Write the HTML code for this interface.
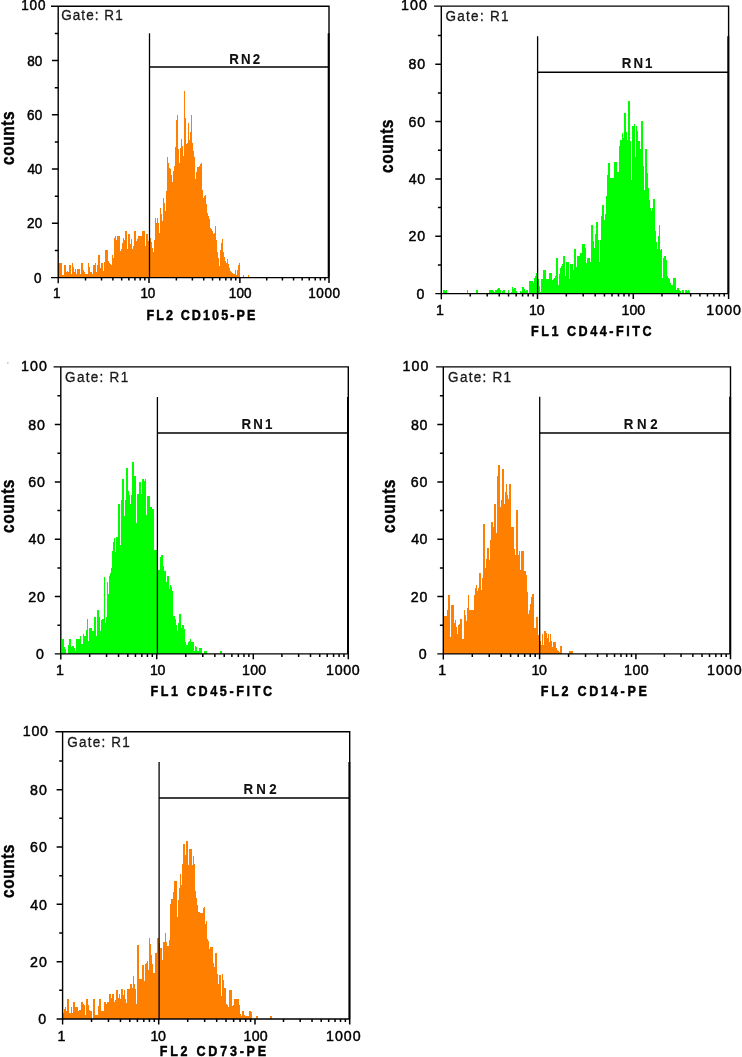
<!DOCTYPE html><html><head><meta charset="utf-8"><title>Flow cytometry histograms</title>
<style>html,body{margin:0;padding:0;background:#fff}svg{display:block}text{font-family:"Liberation Sans",sans-serif;fill:#000;font-kerning:none;stroke:#000;stroke-width:0.45px}.b{font-size:14.1px;font-weight:bold}.c{font-size:18.5px;font-weight:bold}.g{font-size:13.5px;fill:#1a1a1a;stroke:#1a1a1a;stroke-width:0.3px}.r{font-size:13.3px;font-weight:bold;fill:#111;stroke-width:0.1px}</style></head><body>
<svg width="742" height="1057" viewBox="0 0 742 1057">
<rect width="742" height="1057" fill="#fff"/>
<defs><filter id="soft" x="-2%" y="-2%" width="104%" height="104%"><feGaussianBlur stdDeviation="0.42"/></filter></defs>
<g id="panel1">
<path d="M58 277.6V262.74h1V262.74h1V262.74h1V262.74h1V274.87h1V274.87h1V265.43h1V265.43h1V272.17h1V271.43h1V271.5h1V265.43h1V265.43h1V274.19h1V263.14h1V267.23h1V271.89h1V268.8h1V274.19h1V269.47h1V269.47h1V269.47h1V274.19h1V263.14h1V263.14h1V269.79h1V272.01h1V274.19h1V274.19h1V274.19h1V263.14h1V267.01h1V272.17h1V272.17h1V274.19h1V264.76h1V264.76h1V262.74h1V272.17h1V265.49h1V254.92h1V254.92h1V268.13h1V263.14h1V263.14h1V270.82h1V262.48h1V249.66h1V249.66h1V249.66h1V261.01h1V262.56h1V264.35h1V265.43h1V254.92h1V258.02h1V238.17h1V236.46h1V240.05h1V236.46h1V236.46h1V236.46h1V251.28h1V248.58h1V242.71h1V238.48h1V239.82h1V231.06h1V231.06h1V249.26h1V233.76h1V233.76h1V243.87h1V239.15h1V248.58h1V245.61h1V231.06h1V231.06h1V241.17h1V238.57h1V236.46h1V236.46h1V236.46h1V236.46h1V231.06h1V231.06h1V231.06h1V245.89h1V233.76h1V233.76h1V241.17h1V239.5h1V238.22h1V242.01h1V248.2h1V252.07h1V239.9h1V217.91h1V222.53h1V217.55h1V223.41h1V232.68h1V207.76h1V214.16h1V220.68h1V197.98h1V203.02h1V210.53h1V191.39h1V157h1V163.14h1V168.28h1V168.78h1V174.78h1V181.92h1V170.66h1V166.47h1V146.5h1V119.74h1V115.46h1V148.56h1V163.46h1V148.23h1V138.54h1V145.51h1V156.07h1V91.46h1V117.52h1V144.07h1V143.17h1V122.84h1V140.38h1V131.92h1V115.46h1V142.54h1V151.34h1V157.24h1V179.15h1V171.74h1V167.01h1V166.62h1V166.24h1V164.42h1V163.46h1V190.3h1V197.61h1V195.91h1V194.84h1V203.51h1V212.79h1V215.61h1V218.57h1V227.86h1V228.68h1V230.78h1V233.61h1V232.85h1V225.67h1V240.46h1V251.88h1V258.34h1V265.91h1V249.96h1V242.81h1V239.14h1V252.34h1V257.34h1V260.9h1V263.14h1V258.53h1V263.73h1V268.45h1V271.48h1V272.25h1V273.02h1V273.75h1V274.22h1V269.6h1V275.14h1V269.72h1V265.13h1V262.59h1V277.6h1V277.6h1V277.6h1V274.96h1V277.6h1V277.6h1V277.6h1V277.6h1V274.96h1V277.6h1V277.6Z" fill="#ff8000" shape-rendering="crispEdges" filter="url(#soft)"/>
<g stroke="#000" stroke-width="1.4" fill="none">
<path d="M51 6.2H329V277.6"/>
<path d="M58.2 6.2V283.2M51 277.6H329"/>
<path stroke-width="1.5" d="M54.8 250.48H58.2M51.9 223.35H58.2M54.8 196.23H58.2M51.9 169.1H58.2M54.8 141.98H58.2M51.9 114.85H58.2M54.8 87.73H58.2M51.9 60.6H58.2M54.8 33.48H58.2M85.53 277.6V280.6M101.52 277.6V280.6M112.87 277.6V280.6M121.67 277.6V280.6M128.86 277.6V280.6M134.93 277.6V280.6M140.2 277.6V280.6M144.85 277.6V280.6M149 277.6V283M176.36 277.6V280.6M192.37 277.6V280.6M203.73 277.6V280.6M212.54 277.6V280.6M219.73 277.6V280.6M225.82 277.6V280.6M231.09 277.6V280.6M235.74 277.6V280.6M239.9 277.6V283M266.72 277.6V280.6M282.41 277.6V280.6M293.54 277.6V280.6M302.18 277.6V280.6M309.23 277.6V280.6M315.2 277.6V280.6M320.37 277.6V280.6M324.92 277.6V280.6M329 277.6V283"/>
</g>
<g stroke="#000" fill="none"><path stroke-width="1.3" d="M149.5 33.3V277.6"/><path stroke-width="1.5" d="M149.5 66.9H329"/>
<path stroke-width="1.9" d="M328.65 33.3V277.6"/></g>
<text class="t" transform="translate(33.92 282.54) scale(1 1.07)" style="font-size:13.5px" letter-spacing="0">0</text>
<text class="t" transform="translate(27.12 228.29) scale(1 1.07)" style="font-size:13.5px" letter-spacing="0.19">20</text>
<text class="t" transform="translate(27.49 174.04) scale(1 1.07)" style="font-size:13.5px" letter-spacing="-0.18">40</text>
<text class="t" transform="translate(27.11 119.79) scale(1 1.07)" style="font-size:13.5px" letter-spacing="0.2">60</text>
<text class="t" transform="translate(27.21 65.54) scale(1 1.07)" style="font-size:13.5px" letter-spacing="0.1">80</text>
<text class="t" transform="translate(21.17 10.14) scale(1 1.07)" style="font-size:13.5px" letter-spacing="0.87">100</text>
<text class="t" transform="translate(53.11 298) scale(1 1.07)" style="font-size:13.5px" letter-spacing="0">1</text>
<text class="t" transform="translate(140.56 298) scale(1 1.07)" style="font-size:13.5px" letter-spacing="-0.25">10</text>
<text class="t" transform="translate(228.67 298) scale(1 1.07)" style="font-size:13.5px" letter-spacing="0.22">100</text>
<text class="t" transform="translate(308.17 298) scale(1 1.07)" style="font-size:13.5px" letter-spacing="0.61">1000</text>
<text class="b" transform="translate(146.46 320) scale(0.89 1)" letter-spacing="2.38">FL2 CD105-PE</text>
<text class="c" transform="translate(14.1 164.3) rotate(-90) scale(0.84 1)" x="-0.72" y="0" letter-spacing="0.6">counts</text>
<text class="g" transform="translate(61.22 20.3) scale(1 1.1)" letter-spacing="1.06">Gate: R1</text>
<text class="r" transform="translate(229.21 63.7) scale(1 1.08)" letter-spacing="2.16">RN2</text>
</g>
<g id="panel2">
<path d="M442 293.6V293.6h1V290.13h1V290.13h1V291.4h1V290.13h1V293.6h1V293.6h1V293.6h1V293.6h1V293.6h1V293.6h1V293.6h1V293.6h1V293.6h1V293.6h1V293.6h1V293.6h1V293.6h1V293.6h1V293.6h1V293.6h1V293.6h1V293.6h1V293.6h1V293.6h1V290.13h1V293.6h1V293.6h1V293.6h1V293.6h1V293.6h1V293.6h1V293.6h1V293.6h1V290.13h1V290.13h1V293.6h1V293.6h1V293.6h1V293.6h1V293.6h1V293.6h1V293.6h1V293.6h1V293.6h1V293.6h1V293.6h1V290.13h1V290.13h1V290.13h1V290.13h1V291.33h1V291.89h1V290.13h1V290.13h1V288.99h1V287.84h1V287.84h1V289.95h1V293.6h1V291.45h1V290.13h1V290.13h1V293.6h1V293.6h1V293.6h1V290.13h1V293.6h1V293.6h1V291.56h1V287.44h1V289.38h1V288.25h1V288.25h1V290.9h1V293.6h1V293.6h1V293.6h1V290.54h1V291.89h1V287.44h1V287.44h1V289.07h1V291.14h1V290.13h1V290.13h1V293.6h1V281.11h1V281.11h1V281.11h1V281.11h1V282.65h1V278.41h1V275.5h1V272.88h1V275.47h1V279.22h1V286.01h1V291.8h1V278.56h1V278.56h1V270.04h1V270.04h1V270.04h1V278.56h1V278.56h1V278.56h1V272.88h1V272.88h1V272.88h1V280.45h1V278.92h1V277.5h1V275.79h1V258.32h1V258.32h1V285.18h1V274.01h1V267.72h1V266.39h1V263.53h1V255.86h1V255.86h1V275.72h1V262.48h1V262.48h1V262.48h1V278.56h1V263.99h1V263.99h1V263.99h1V270.04h1V249.23h1V249.23h1V267.21h1V255.86h1V255.86h1V255.86h1V253.02h1V253.02h1V243.94h1V243.94h1V243.94h1V247.51h1V263.42h1V258.32h1V258.32h1V258.32h1V262.48h1V224.64h1V224.64h1V240.58h1V248.29h1V234.28h1V221.8h1V221.8h1V239.58h1V262.48h1V240.47h1V215.92h1V204.78h1V204.78h1V219.91h1V213.57h1V196.49h1V175.11h1V163.16h1V163.16h1V177.73h1V177.73h1V177.73h1V177.73h1V162.21h1V162.21h1V162.21h1V171.67h1V171.67h1V146.41h1V140.46h1V140.46h1V132.89h1V137.62h1V113.03h1V113.03h1V132.08h1V139.51h1V101.3h1V101.3h1V141.28h1V180.18h1V126.27h1V126.27h1V124h1V157.48h1V126.27h1V131.32h1V141.02h1V141.02h1V148.97h1V120.97h1V120.97h1V166.26h1V189.64h1V148.97h1V148.97h1V173.27h1V188.27h1V200.02h1V207.7h1V211.4h1V208.14h1V199.1h1V199.1h1V230.72h1V241.89h1V249.35h1V236.17h1V224.64h1V250.18h1V249.15h1V277.89h1V257.99h1V255.78h1V255.78h1V259.65h1V275.86h1V278.19h1V278.99h1V283.41h1V285.07h1V285.07h1V278.44h1V278.44h1V278.44h1V290.34h1V287.83h1V287.83h1V290.2h1V291.2h1V293.6h1V290.26h1V290.26h1V293.6h1V290.26h1V290.26h1V291.16h1V290.26h1V291.25h1V293.6Z" fill="#00ff00" shape-rendering="crispEdges" filter="url(#soft)"/>
<g stroke="#000" stroke-width="1.4" fill="none">
<path d="M434.1 6.15H728.6V293.6"/>
<path d="M441.3 6.15V299.2M435.3 293.6H728.6"/>
<path stroke-width="1.5" d="M437.9 264.93H441.3M435.3 236.26H441.3M437.9 207.59H441.3M435.3 178.92H441.3M437.9 150.25H441.3M435.3 121.58H441.3M437.9 92.91H441.3M435.3 64.24H441.3M437.9 35.57H441.3M470.26 293.6V296.6M487.2 293.6V296.6M499.22 293.6V296.6M508.54 293.6V296.6M516.16 293.6V296.6M522.6 293.6V296.6M528.18 293.6V296.6M533.1 293.6V296.6M537.5 293.6V299M566.34 293.6V296.6M583.21 293.6V296.6M595.18 293.6V296.6M604.46 293.6V296.6M612.05 293.6V296.6M618.46 293.6V296.6M624.02 293.6V296.6M628.92 293.6V296.6M633.3 293.6V299M661.99 293.6V296.6M678.77 293.6V296.6M690.68 293.6V296.6M699.91 293.6V296.6M707.46 293.6V296.6M713.84 293.6V296.6M719.36 293.6V296.6M724.24 293.6V296.6M728.6 293.6V299"/>
</g>
<g stroke="#000" fill="none"><path stroke-width="1.3" d="M537.6 36.2V293.6"/><path stroke-width="1.5" d="M537.6 72.3H728.6"/>
<path stroke-width="1.9" d="M728.25 36.2V293.6"/></g>
<text class="t" transform="translate(416.46 298.8) scale(1 1.07)" style="font-size:14.2px" letter-spacing="0">0</text>
<text class="t" transform="translate(408.39 241.46) scale(1 1.07)" style="font-size:14.2px" letter-spacing="1.07">20</text>
<text class="t" transform="translate(408.77 184.12) scale(1 1.07)" style="font-size:14.2px" letter-spacing="0.69">40</text>
<text class="t" transform="translate(408.38 126.78) scale(1 1.07)" style="font-size:14.2px" letter-spacing="1.08">60</text>
<text class="t" transform="translate(408.48 69.44) scale(1 1.07)" style="font-size:14.2px" letter-spacing="0.98">80</text>
<text class="t" transform="translate(401.02 10.35) scale(1 1.07)" style="font-size:14.2px" letter-spacing="1.07">100</text>
<text class="t" transform="translate(436.11 314.5) scale(1 1.07)" style="font-size:14.2px" letter-spacing="0">1</text>
<text class="t" transform="translate(529.11 314.5) scale(1 1.07)" style="font-size:14.2px" letter-spacing="-0.25">10</text>
<text class="t" transform="translate(621.62 314.5) scale(1 1.07)" style="font-size:14.2px" letter-spacing="-0.03">100</text>
<text class="t" transform="translate(706.32 314.5) scale(1 1.07)" style="font-size:14.2px" letter-spacing="1.02">1000</text>
<text class="b" transform="translate(530.96 335.5) scale(0.89 1)" letter-spacing="2.88">FL1 CD44-FITC</text>
<text class="c" transform="translate(393 172.4) rotate(-90) scale(0.84 1)" x="-0.72" y="0" letter-spacing="0.6">counts</text>
<text class="g" transform="translate(445.42 21.4) scale(1 1.1)" letter-spacing="1.3">Gate: R1</text>
<text class="r" transform="translate(621.81 67.8) scale(1 1.08)" letter-spacing="2.03">RN1</text>
</g>
<g id="panel3">
<path d="M62 653.9V639.25h1V639.25h1V646.62h1V649.19h1V653.9h1V653.9h1V644.93h1V639.25h1V639.25h1V647.3h1V646.37h1V645.88h1V648.48h1V650.61h1V639.25h1V639.25h1V639.25h1V639.25h1V636.42h1V644.12h1V644.46h1V634.05h1V636.42h1V636.1h1V630.4h1V619.39h1V641.23h1V628.37h1V628.37h1V628.37h1V631.21h1V631.21h1V616.55h1V616.55h1V635.94h1V609.93h1V609.93h1V616.55h1V630.74h1V619.67h1V619.2h1V619.2h1V576.81h1V623.17h1V616.61h1V582.49h1V593.84h1V575.71h1V573.03h1V567.62h1V550.59h1V542.22h1V538.29h1V552.48h1V537.35h1V537.35h1V504.24h1V504.24h1V544.91h1V499.51h1V478.7h1V478.7h1V516.02h1V499.51h1V468.3h1V468.3h1V491h1V495.13h1V504.24h1V494.78h1V461.68h1V461.68h1V475.86h1V475.86h1V523.16h1V493.84h1V493.84h1V481.54h1V481.54h1V493.76h1V479.08h1V479.08h1V481.43h1V479.08h1V514.65h1V496.11h1V496.11h1V496.11h1V507.08h1V507.08h1V508.66h1V508.97h1V549.64h1V549.64h1V549.64h1V559.48h1V569.51h1V569.51h1V556.72h1V555.32h1V555.32h1V565.65h1V571.4h1V571.4h1V581.8h1V576.13h1V576.13h1V589.39h1V584.86h1V586.62h1V590.53h1V616.08h1V616.08h1V619.34h1V624.69h1V631.21h1V623.17h1V614.18h1V614.18h1V628.37h1V624.59h1V624.59h1V628.7h1V641.62h1V645.4h1V645.4h1V641.62h1V640.76h1V639.25h1V641.6h1V641.62h1V641.62h1V650.61h1V645.88h1V646.64h1V650.61h1V650.61h1V648.24h1V648.24h1V648.24h1V653.9h1V653.9h1V651.08h1V651.08h1V651.08h1V653.9h1V653.9h1V653.9h1V653.9h1V653.9h1V653.9h1V653.9h1V653.9h1V653.9h1V653.9h1V653.9h1V653.9h1V653.9h1V651.08h1V651.08h1V653.9h1V653.9Z" fill="#00ff00" shape-rendering="crispEdges" filter="url(#soft)"/>
<g stroke="#000" stroke-width="1.4" fill="none">
<path d="M53.6 366.9H348.3V653.9"/>
<path d="M60.8 366.9V659.5M54.8 653.9H348.3"/>
<path stroke-width="1.5" d="M57.4 625.23H60.8M54.8 596.56H60.8M57.4 567.89H60.8M54.8 539.22H60.8M57.4 510.55H60.8M54.8 481.88H60.8M57.4 453.21H60.8M54.8 424.54H60.8M57.4 395.87H60.8M89.67 653.9V656.9M106.56 653.9V656.9M118.54 653.9V656.9M127.83 653.9V656.9M135.42 653.9V656.9M141.84 653.9V656.9M147.41 653.9V656.9M152.31 653.9V656.9M156.7 653.9V659.3M185.78 653.9V656.9M202.79 653.9V656.9M214.86 653.9V656.9M224.22 653.9V656.9M231.87 653.9V656.9M238.34 653.9V656.9M243.94 653.9V656.9M248.88 653.9V656.9M253.3 653.9V659.3M281.9 653.9V656.9M298.63 653.9V656.9M310.5 653.9V656.9M319.7 653.9V656.9M327.22 653.9V656.9M333.58 653.9V656.9M339.09 653.9V656.9M343.95 653.9V656.9M348.3 653.9V659.3"/>
</g>
<g stroke="#000" fill="none"><path stroke-width="1.3" d="M157.4 396.9V653.9"/><path stroke-width="1.5" d="M157.4 433H348.3"/>
<path stroke-width="1.9" d="M347.95 396.9V653.9"/></g>
<text class="t" transform="translate(36.06 659.1) scale(1 1.07)" style="font-size:14.2px" letter-spacing="0">0</text>
<text class="t" transform="translate(28.19 601.76) scale(1 1.07)" style="font-size:14.2px" letter-spacing="0.87">20</text>
<text class="t" transform="translate(28.57 544.42) scale(1 1.07)" style="font-size:14.2px" letter-spacing="0.49">40</text>
<text class="t" transform="translate(28.18 487.08) scale(1 1.07)" style="font-size:14.2px" letter-spacing="0.88">60</text>
<text class="t" transform="translate(28.28 429.74) scale(1 1.07)" style="font-size:14.2px" letter-spacing="0.78">80</text>
<text class="t" transform="translate(21.02 371.1) scale(1 1.07)" style="font-size:14.2px" letter-spacing="1.07">100</text>
<text class="t" transform="translate(56.01 675.2) scale(1 1.07)" style="font-size:14.2px" letter-spacing="0">1</text>
<text class="t" transform="translate(149.91 675.2) scale(1 1.07)" style="font-size:14.2px" letter-spacing="-0.25">10</text>
<text class="t" transform="translate(242.02 675.2) scale(1 1.07)" style="font-size:14.2px" letter-spacing="0.27">100</text>
<text class="t" transform="translate(326.12 675.2) scale(1 1.07)" style="font-size:14.2px" letter-spacing="0.65">1000</text>
<text class="b" transform="translate(150.46 696.4) scale(0.89 1)" letter-spacing="2.98">FL1 CD45-FITC</text>
<text class="c" transform="translate(13.9 532.4) rotate(-90) scale(0.84 1)" x="-0.72" y="0" letter-spacing="0.6">counts</text>
<text class="g" transform="translate(65.12 381.9) scale(1 1.1)" letter-spacing="1.29">Gate: R1</text>
<text class="r" transform="translate(241.61 428.6) scale(1 1.08)" letter-spacing="2.13">RN1</text>
</g>
<g id="panel4">
<path d="M443 653.9V616.42h1V616.42h1V616.42h1V616.42h1V610.04h1V595.05h1V595.05h1V636.67h1V604.51h1V604.51h1V604.51h1V623.42h1V619.64h1V626.65h1V633.83h1V625.31h1V623.72h1V619.07h1V619.07h1V639.13h1V639.13h1V609.61h1V615.17h1V620.85h1V607.91h1V595.42h1V609.61h1V609.61h1V609.61h1V609.61h1V609.61h1V594.92h1V588.43h1V585.02h1V590.7h1V587.93h1V572.91h1V572.91h1V590.32h1V578.47h1V524.1h1V524.1h1V567.62h1V558.65h1V547.75h1V547.75h1V559.67h1V540.41h1V522.21h1V522.21h1V526.94h1V504.24h1V504.24h1V533.19h1V475.86h1V465.46h1V465.46h1V507.46h1V499.71h1V469.24h1V469.24h1V504.24h1V492.04h1V484.38h1V495.15h1V499.49h1V484.38h1V484.38h1V526.94h1V526.94h1V526.94h1V548.91h1V555.32h1V509.54h1V509.54h1V555.32h1V550.59h1V570.45h1V550.59h1V550.59h1V550.59h1V571.4h1V571.4h1V574.89h1V592.34h1V613.96h1V610.24h1V603.98h1V597.4h1V594.1h1V594.1h1V628.15h1V628.15h1V616.8h1V616.8h1V634.78h1V638.11h1V641.45h1V645.18h1V633.83h1V645.18h1V630.99h1V630.99h1V633.15h1V637.61h1V633.83h1V642.34h1V633.83h1V641.24h1V647.07h1V642.34h1V642.34h1V642.34h1V647.66h1V649.53h1V651.05h1V651.8h1V646.12h1V646.12h1V653.9h1V653.9h1V653.9h1V653.9h1V653.9h1V653.9h1V653.9h1V650.85h1V650.85h1V650.85h1V650.85h1V653.9h1V653.9Z" fill="#ff8000" shape-rendering="crispEdges" filter="url(#soft)"/>
<g stroke="#000" stroke-width="1.4" fill="none">
<path d="M436.1 366.9H730.5V653.9"/>
<path d="M443.3 366.9V659.5M437.3 653.9H730.5"/>
<path stroke-width="1.5" d="M439.9 625.23H443.3M437.3 596.56H443.3M439.9 567.89H443.3M437.3 539.22H443.3M439.9 510.55H443.3M437.3 481.88H443.3M439.9 453.21H443.3M437.3 424.54H443.3M439.9 395.87H443.3M472.29 653.9V656.9M489.25 653.9V656.9M501.28 653.9V656.9M510.61 653.9V656.9M518.24 653.9V656.9M524.68 653.9V656.9M530.27 653.9V656.9M535.19 653.9V656.9M539.6 653.9V659.3M568.59 653.9V656.9M585.55 653.9V656.9M597.58 653.9V656.9M606.91 653.9V656.9M614.54 653.9V656.9M620.98 653.9V656.9M626.57 653.9V656.9M631.49 653.9V656.9M635.9 653.9V659.3M664.38 653.9V656.9M681.04 653.9V656.9M692.85 653.9V656.9M702.02 653.9V656.9M709.51 653.9V656.9M715.85 653.9V656.9M721.33 653.9V656.9M726.17 653.9V656.9M730.5 653.9V659.3"/>
</g>
<g stroke="#000" fill="none"><path stroke-width="1.3" d="M539.7 396.8V653.9"/><path stroke-width="1.5" d="M539.7 433.1H730.5"/>
<path stroke-width="1.9" d="M730.15 396.8V653.9"/></g>
<text class="t" transform="translate(418.66 659.1) scale(1 1.07)" style="font-size:14.2px" letter-spacing="0">0</text>
<text class="t" transform="translate(410.79 601.76) scale(1 1.07)" style="font-size:14.2px" letter-spacing="0.87">20</text>
<text class="t" transform="translate(411.17 544.42) scale(1 1.07)" style="font-size:14.2px" letter-spacing="0.49">40</text>
<text class="t" transform="translate(410.78 487.08) scale(1 1.07)" style="font-size:14.2px" letter-spacing="0.88">60</text>
<text class="t" transform="translate(410.88 429.74) scale(1 1.07)" style="font-size:14.2px" letter-spacing="0.78">80</text>
<text class="t" transform="translate(402.62 371.1) scale(1 1.07)" style="font-size:14.2px" letter-spacing="1.07">100</text>
<text class="t" transform="translate(438.31 675.2) scale(1 1.07)" style="font-size:14.2px" letter-spacing="0">1</text>
<text class="t" transform="translate(531.41 675.2) scale(1 1.07)" style="font-size:14.2px" letter-spacing="-0.25">10</text>
<text class="t" transform="translate(623.92 675.2) scale(1 1.07)" style="font-size:14.2px" letter-spacing="0.57">100</text>
<text class="t" transform="translate(707.12 675.2) scale(1 1.07)" style="font-size:14.2px" letter-spacing="0.95">1000</text>
<text class="b" transform="translate(540.76 695.8) scale(0.89 1)" letter-spacing="3.09">FL2 CD14-PE</text>
<text class="c" transform="translate(394.5 532.4) rotate(-90) scale(0.84 1)" x="-0.72" y="0" letter-spacing="0.6">counts</text>
<text class="g" transform="translate(448.12 381.6) scale(1 1.1)" letter-spacing="1.27">Gate: R1</text>
<text class="r" transform="translate(623.81 428.6) scale(1 1.08)" letter-spacing="3.61">RN2</text>
</g>
<g id="panel5">
<path d="M63 1019V1013.45h1V1008.72h1V1006.71h1V1010.75h1V999.3h1V999.3h1V1013.45h1V1013.45h1V1007.39h1V1013.09h1V1001.73h1V1001.73h1V1007.42h1V1007.39h1V1007.39h1V1010.75h1V1010.08h1V1010.08h1V1001.73h1V1001.73h1V1003.51h1V1004.69h1V1015.47h1V999.3h1V999.3h1V1005.07h1V1010.15h1V1011.43h1V1011.43h1V1019h1V999.3h1V999.3h1V1015.47h1V1015.47h1V1015.47h1V1005.7h1V999.3h1V999.3h1V1010.75h1V1010.75h1V1010.75h1V1001.99h1V1001.99h1V1004.27h1V1001.73h1V1001.73h1V993.64h1V993.64h1V997.63h1V993.91h1V993.91h1V1001.73h1V999.57h1V989.87h1V989.87h1V997.63h1V993.91h1V999.3h1V988.79h1V988.79h1V995.45h1V989.87h1V999.11h1V1003.34h1V988.52h1V988.52h1V988.69h1V984.47h1V984.47h1V987.84h1V975.71h1V983.53h1V988.79h1V1004.02h1V944.72h1V944.72h1V979.08h1V979.08h1V979.08h1V964.93h1V964.93h1V981.11h1V964.26h1V963.05h1V960.61h1V970.45h1V938.29h1V944.08h1V955.32h1V964.33h1V973.29h1V973.29h1V953.43h1V953.43h1V937.91h1V937.91h1V942.78h1V947.75h1V947.75h1V960.05h1V942.07h1V942.07h1V932.62h1V941.77h1V945.86h1V945.86h1V939.51h1V904.16h1V898.56h1V898.56h1V891.94h1V881.16h1V881.16h1V881.16h1V917.48h1V900.13h1V888.16h1V874.35h1V885.32h1V864.12h1V844.08h1V844.08h1V854.57h1V841.43h1V841.43h1V864.51h1V849.38h1V849.38h1V849.38h1V865.45h1V856h1V863.65h1V891.2h1V897.56h1V904.75h1V911.95h1V912.3h1V912.75h1V912.75h1V912.75h1V907.51h1V906.51h1V924.1h1V921.26h1V939.42h1V940.84h1V949.3h1V947.28h1V947.28h1V947.28h1V962.79h1V966.82h1V952.67h1V952.67h1V974.18h1V983.67h1V974.91h1V974.91h1V995.8h1V973.83h1V979.68h1V988.39h1V988.39h1V1004.19h1V1005.19h1V1006.58h1V989.73h1V989.73h1V989.73h1V1005.91h1V1004.69h1V998.9h1V998.9h1V998.9h1V998.9h1V998.9h1V1005.13h1V1014.36h1V1016.01h1V1011.03h1V1011.03h1V1014.55h1V1016.01h1V1016.01h1V1016.01h1V1016.01h1V1011.03h1V1011.03h1V1012.48h1V1019h1V1019h1V1019h1V1019h1V1016.42h1V1016.42h1V1019h1V1019h1V1019h1V1019h1V1019h1V1019h1V1019h1V1019h1V1019h1V1019h1V1019h1V1019h1V1016.01h1V1016.01h1V1019h1V1019Z" fill="#ff8000" shape-rendering="crispEdges" filter="url(#soft)"/>
<g stroke="#000" stroke-width="1.4" fill="none">
<path d="M55.4 731.8H349.7V1019"/>
<path d="M62.6 731.8V1024.6M56.6 1019H349.7"/>
<path stroke-width="1.5" d="M59.2 990.33H62.6M56.6 961.66H62.6M59.2 932.99H62.6M56.6 904.32H62.6M59.2 875.65H62.6M56.6 846.98H62.6M59.2 818.31H62.6M56.6 789.64H62.6M59.2 760.97H62.6M91.53 1019V1022M108.45 1019V1022M120.46 1019V1022M129.77 1019V1022M137.38 1019V1022M143.81 1019V1022M149.39 1019V1022M154.3 1019V1022M158.7 1019V1024.4M187.69 1019V1022M204.65 1019V1022M216.68 1019V1022M226.01 1019V1022M233.64 1019V1022M240.08 1019V1022M245.67 1019V1022M250.59 1019V1022M255 1019V1024.4M283.51 1019V1022M300.18 1019V1022M312.02 1019V1022M321.19 1019V1022M328.69 1019V1022M335.03 1019V1022M340.52 1019V1022M345.37 1019V1022M349.7 1019V1024.4"/>
</g>
<g stroke="#000" fill="none"><path stroke-width="1.3" d="M159.1 761.9V1019"/><path stroke-width="1.5" d="M159.1 798.1H349.7"/>
<path stroke-width="1.9" d="M349.35 761.9V1019"/></g>
<text class="t" transform="translate(38.16 1024.2) scale(1 1.07)" style="font-size:14.2px" letter-spacing="0">0</text>
<text class="t" transform="translate(29.99 966.86) scale(1 1.07)" style="font-size:14.2px" letter-spacing="1.17">20</text>
<text class="t" transform="translate(30.37 909.52) scale(1 1.07)" style="font-size:14.2px" letter-spacing="0.79">40</text>
<text class="t" transform="translate(29.98 852.18) scale(1 1.07)" style="font-size:14.2px" letter-spacing="1.18">60</text>
<text class="t" transform="translate(30.08 794.84) scale(1 1.07)" style="font-size:14.2px" letter-spacing="1.08">80</text>
<text class="t" transform="translate(22.72 736) scale(1 1.07)" style="font-size:14.2px" letter-spacing="0.77">100</text>
<text class="t" transform="translate(57.46 1040.5) scale(1 1.07)" style="font-size:14.2px" letter-spacing="0">1</text>
<text class="t" transform="translate(150.41 1040.5) scale(1 1.07)" style="font-size:14.2px" letter-spacing="-0.25">10</text>
<text class="t" transform="translate(243.62 1040.5) scale(1 1.07)" style="font-size:14.2px" letter-spacing="0.22">100</text>
<text class="t" transform="translate(326.12 1040.5) scale(1 1.07)" style="font-size:14.2px" letter-spacing="0.95">1000</text>
<text class="b" transform="translate(159.76 1056) scale(0.89 1)" letter-spacing="3.1">FL2 CD73-PE</text>
<text class="c" transform="translate(13.7 897.4) rotate(-90) scale(0.84 1)" x="-0.72" y="0" letter-spacing="0.6">counts</text>
<text class="g" transform="translate(67.22 746.9) scale(1 1.1)" letter-spacing="1.23">Gate: R1</text>
<text class="r" transform="translate(243.41 793.6) scale(1 1.08)" letter-spacing="3.31">RN2</text>
</g>
<rect x="7.2" y="362.3" width="1.3" height="1.3" fill="#a8a8a8"/>
</svg></body></html>
